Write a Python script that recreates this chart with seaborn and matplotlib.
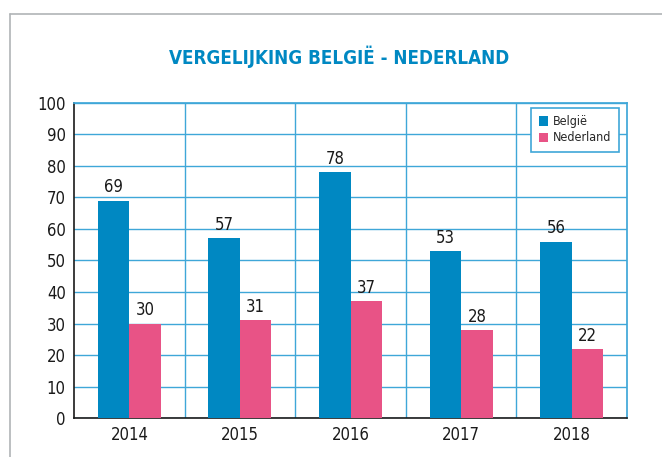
import matplotlib
matplotlib.use("Agg")
import matplotlib.pyplot as plt
from matplotlib.lines import Line2D
import seaborn as sns
import pandas as pd
import numpy as np

years = ["2014", "2015", "2016", "2017", "2018"]
belgie = [69, 57, 78, 53, 56]
nederland = [30, 31, 37, 28, 22]
series_names = ["België", "Nederland"]
colors = ["#0088c2", "#e85386"]
grid_col = "#3fa7d8"

sns.set_theme(style="white")
plt.rcParams['font.family'] = ['DejaVu Sans']
plt.rcParams['font.stretch'] = 'condensed'

df = pd.DataFrame({
    "jaar": years * 2,
    "land": [series_names[0]] * len(years) + [series_names[1]] * len(years),
    "waarde": belgie + nederland,
})

fig = plt.figure(figsize=(6.62, 4.57), dpi=100)
ax = fig.add_axes([0.112, 0.085, 0.835, 0.69])

sns.barplot(data=df, x="jaar", y="waarde", hue="land", palette=colors,
            width=0.57, saturation=1, linewidth=0, ax=ax, zorder=3)

for cont in ax.containers:
    ax.bar_label(cont, fontsize=12, padding=3, color="#1a1a1a")

ax.set_ylim(0, 100)
ax.set_yticks(np.arange(0, 101, 10))
ax.set_xlim(-0.5, len(years) - 0.5)
ax.set_xticks(np.arange(len(years) - 1) + 0.5, minor=True)
ax.grid(True, axis="y", which="major", color=grid_col, lw=1, zorder=0)
ax.grid(True, axis="x", which="minor", color=grid_col, lw=1, zorder=0)
ax.tick_params(axis="both", which="both", length=0, labelsize=12, colors="#1a1a1a", pad=6)
ax.set_xlabel("")
ax.set_ylabel("")

for s in ["top", "right"]:
    ax.spines[s].set_color(grid_col)
for s in ["left", "bottom"]:
    ax.spines[s].set_color("#1a1a1a")
    ax.spines[s].set_linewidth(1.2)

leg = ax.legend(loc="upper right", bbox_to_anchor=(0.986, 0.984), borderaxespad=0,
                fontsize=9, frameon=True, fancybox=False, framealpha=1, handlelength=0.75,
                handleheight=0.75, handletextpad=0.4, borderpad=0.6, labelspacing=0.25)
leg.get_frame().set_edgecolor(grid_col)
leg.get_frame().set_linewidth(1.2)

fig.text(0.513, 0.875, "VERGELIJKING BELGIË - NEDERLAND", ha="center", va="center",
         fontsize=13.5, fontweight="bold", color="#0088c2")

# outer frame
fig.add_artist(Line2D([0.015, 0.015], [0, 0.97], color="#b0b4b6", lw=1.2, transform=fig.transFigure))
fig.add_artist(Line2D([0.015, 1.0], [0.97, 0.97], color="#b0b4b6", lw=1.2, transform=fig.transFigure))

fig.savefig("out.png", dpi=100)
